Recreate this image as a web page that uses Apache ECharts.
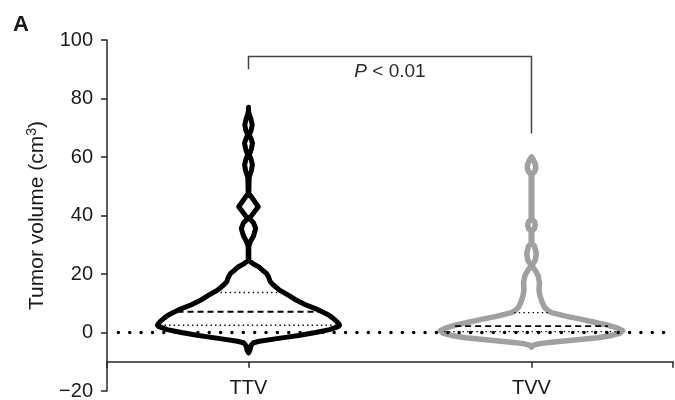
<!DOCTYPE html>
<html><head><meta charset="utf-8">
<script src="https://cdn.jsdelivr.net/npm/echarts@6/dist/echarts.min.js"></script>
<style>html,body{margin:0;padding:0;background:#fff}#c{width:675px;height:400px}</style>
</head><body><div id="c"></div>
<script>
// ---------------- data ----------------
const categories = ['TTV', 'TVV'];
const yMin = -20, yMax = 100, yStep = 20;
const xAxisCross = -10;             // value where the category axis crosses
const zeroLineValue = 0;

// violin outlines: levels (cm3) and relative density (half-width)
const ttvLevels  = [-7, -6, -4.5, -3.5, -3, -2, -1, 0, 1, 2, 2.5, 3, 4, 5, 6, 7, 8, 9.5, 11, 12.5, 14.5, 16.5, 17.5, 19, 20.2, 21.3, 22.5, 23.6, 24.7, 29.3, 31, 33, 35.6, 37.5, 39, 43, 47.6, 53.1, 55.2, 57.3, 59, 60.7, 62.7, 64.7, 66, 67.6, 69.3, 71, 73, 75.3, 77];
const ttvDensity = [0, 1.5, 2.5, 5, 11, 30, 50, 67, 81, 89.5, 91, 90, 87.5, 84, 80, 74, 68, 57, 48, 41, 31, 24, 21.5, 20, 18, 14, 10, 4, 0.3, 0.3, 1.8, 5, 7.2, 5, 0.8, 9.8, 0.3, 0.7, 2.8, 3.9, 2.8, 0.8, 2.8, 4.0, 2.8, 0.8, 2.8, 3.7, 2.4, 0.2, 0];
const tvvLevels  = [-5, -4.3, -3.8, -3.3, -2.6, -1.8, -1, -0.3, 0.6, 1.5, 2.5, 3.5, 4.5, 5.5, 6.8, 7.6, 8.6, 10.5, 12.5, 14.5, 17, 19.5, 21.3, 23, 24.5, 27, 29.5, 30.5, 34.5, 35.6, 36.7, 37.8, 38.8, 53.9, 55, 56.2, 57.5, 59, 60];
const tvvDensity = [0, 2, 8, 20, 43, 66, 80, 88, 91, 86, 76, 63, 50, 35, 20, 16, 13, 10.5, 8.5, 7.5, 8, 6.5, 3.5, 0.3, 3.5, 4.8, 3, 0.3, 0.3, 3, 3.8, 3, 0.3, 0.3, 3, 4.3, 3.8, 2, 0];
// [Q1, median, Q3]
const ttvQuartiles = [2.5, 7.1, 13.7];
const tvvQuartiles = [0.3, 2.2, 6.8];

// significance bracket
const bracketFrom = 'TTV', bracketTo = 'TVV';
const bracketTop = 94.4, bracketLeftEnd = 90, bracketRightEnd = 68;
const pLabelItalic = 'P', pLabelRest = ' < 0.01';

// ---------------- rendering ----------------
const FONT = '"Liberation Sans", Arial, Helvetica, sans-serif';
const TXT = '#1a1a1a';
const AX = '#262626';
const violins = [
  {levels: ttvLevels, dens: ttvDensity, quart: ttvQuartiles, color: '#000000', width: 5},
  {levels: tvvLevels, dens: tvvDensity, quart: tvvQuartiles, color: '#a0a0a0', width: 5.5}
];
function interp(levels, dens, v) {
  for (let i = 1; i < levels.length; i++) {
    if (v <= levels[i]) {
      const t = (v - levels[i-1]) / (levels[i] - levels[i-1]);
      return dens[i-1] + t * (dens[i] - dens[i-1]);
    }
  }
  return 0;
}
function renderViolin(params, api) {
  const i = api.value(0);
  const v = violins[i];
  const band = api.size([1, 0])[0];
  const maxD = Math.max.apply(null, v.dens);
  const k = band * 0.322 / maxD;
  const right = [], left = [];
  v.levels.forEach(function (lv, j) {
    const p = api.coord([i, lv]);
    right.push([p[0] + v.dens[j] * k, p[1]]);
    left.push([p[0] - v.dens[j] * k, p[1]]);
  });
  const pts = right.concat(left.reverse());
  const children = [{
    type: 'polygon', shape: {points: pts},
    style: {fill: '#ffffff', stroke: v.color, lineWidth: v.width, lineJoin: 'round'}, z2: 1
  }];
  v.quart.forEach(function (q, qi) {
    const p = api.coord([i, q]);
    const hw = Math.max(0, interp(v.levels, v.dens, q) * k - v.width / 2);
    children.push({
      type: 'line', shape: {x1: p[0] - hw, y1: p[1], x2: p[0] + hw, y2: p[1]},
      style: {stroke: '#000', lineWidth: qi === 1 ? 1.8 : 1.4, lineDash: qi === 1 ? [6, 4] : [1.4, 3.2]},
      z2: 2
    });
  });
  return {type: 'group', children: children};
}
function renderBracket(params, api) {
  const a = categories.indexOf(bracketFrom), b = categories.indexOf(bracketTo);
  const p1 = api.coord([a, bracketLeftEnd]);
  const p2 = api.coord([a, bracketTop]);
  const p3 = api.coord([b, bracketTop]);
  const p4 = api.coord([b, bracketRightEnd]);
  return {type: 'group', children: [
    {type: 'polyline', shape: {points: [p1, p2, p3, p4]},
     style: {stroke: '#444', lineWidth: 1.5, fill: null}},
    {type: 'text', style: {
      text: '{i|' + pLabelItalic + '}{n|' + pLabelRest + '}',
      x: (p2[0] + p3[0]) / 2, y: p2[1] + 6, align: 'center', verticalAlign: 'top',
      rich: {
        i: {fontFamily: FONT, fontSize: 19, fontStyle: 'italic', fill: '#2a2a2a'},
        n: {fontFamily: FONT, fontSize: 19, fill: '#2a2a2a'}
      }
    }}
  ]};
}
function renderZero(params, api) {
  const cs = params.coordSys;
  const y = api.coord([0, zeroLineValue])[1];
  const gap = 11.35;
  return {type: 'line', shape: {x1: cs.x + gap, y1: y, x2: cs.x + cs.width, y2: y},
    style: {stroke: '#000', lineWidth: 3.5, lineCap: 'round', lineDash: [0.01, gap]}};
}

const gridTop = 40, gridBottom = 9;
const gridHeight = 400 - gridTop - gridBottom;
const xOffset = -((xAxisCross - yMin) / (yMax - yMin)) * gridHeight;

const chart = echarts.init(document.getElementById('c'), null, {renderer: 'canvas'});
chart.setOption({
  animation: false,
  backgroundColor: '#ffffff',
  textStyle: {fontFamily: FONT},
  title: {text: 'A', left: 8, top: 9, textStyle: {fontFamily: FONT, fontSize: 22, fontWeight: 'bold', color: TXT}},
  grid: {left: 107, right: 2, top: gridTop, bottom: gridBottom, containLabel: false, outerBoundsMode: 'none'},
  xAxis: [{
    type: 'category', data: categories, position: 'bottom', offset: xOffset,
    axisLine: {show: true, onZero: false, lineStyle: {color: AX, width: 1.5}},
    axisTick: {show: true, alignWithLabel: true, length: 6, lineStyle: {color: AX, width: 1.5}},
    axisLabel: {fontFamily: FONT, fontSize: 20, color: TXT, margin: 17},
    splitLine: {show: false}
  }, {
    type: 'value', min: 0, max: 1, interval: 1, position: 'bottom', offset: xOffset,
    axisLine: {show: false, onZero: false},
    axisTick: {show: true, length: 6, lineStyle: {color: AX, width: 1.5}},
    axisLabel: {show: false}, splitLine: {show: false}
  }],
  yAxis: {
    type: 'value', min: yMin, max: yMax, interval: yStep,
    axisLine: {show: true, onZero: false, lineStyle: {color: AX, width: 1.5}},
    axisTick: {show: true, length: 6, lineStyle: {color: AX, width: 1.5}},
    splitLine: {show: false},
    axisLabel: {fontFamily: FONT, fontSize: 20, color: TXT, margin: 14,
      formatter: function (v) { return String(v).replace('-', '\u2212'); }},
    name: '{a|Tumor volume (cm}{s|3}{a|)}', nameLocation: 'middle', nameGap: 52, nameRotate: 90,
    nameTextStyle: {rich: {
      a: {fontFamily: FONT, fontSize: 21, color: TXT, lineHeight: 25},
      s: {fontFamily: FONT, fontSize: 14, color: TXT, verticalAlign: 'top', lineHeight: 25}
    }}
  },
  series: [
    {type: 'custom', name: 'violins', xAxisIndex: 0, yAxisIndex: 0, renderItem: renderViolin,
     data: categories.map(function (c, i) { return [i, violins[i].quart[1]]; }), encode: {x: 0, y: 1}, z: 2, silent: true},
    {type: 'custom', name: 'zero', xAxisIndex: 0, yAxisIndex: 0, renderItem: renderZero,
     data: [[0, zeroLineValue]], encode: {x: 0, y: 1}, z: 4, silent: true},
    {type: 'custom', name: 'bracket', xAxisIndex: 0, yAxisIndex: 0, renderItem: renderBracket,
     data: [[0, bracketTop]], encode: {x: 0, y: 1}, z: 3, silent: true}
  ]
});
</script></body></html>
